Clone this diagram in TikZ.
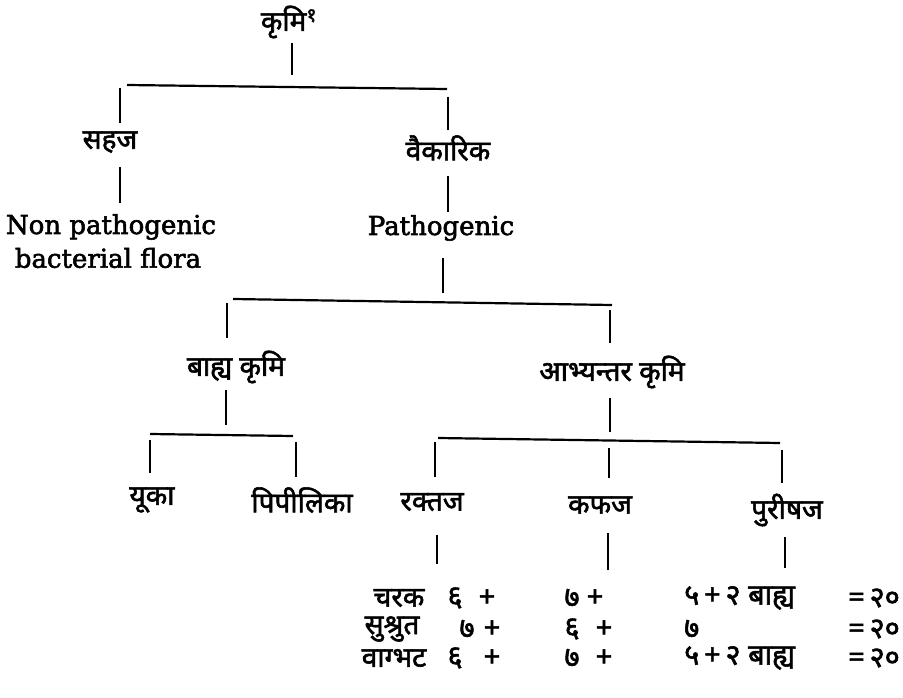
\documentclass[tikz,border=0pt]{standalone}
\usepackage{fontspec}
\setmainfont{DejaVu Serif}
\newfontfamily\enfont[FakeBold=2.2]{DejaVu Serif}
\newfontfamily\deva[Script=Devanagari,FakeBold=2]{Noto Sans}
\begin{document}
\begin{tikzpicture}[x=1pt,y=-1pt,
  every node/.style={inner sep=0pt},
  dv/.style={font=\deva\fontsize{28}{32}\selectfont},
  dn/.style={font=\deva\fontsize{29}{32}\selectfont},
  en/.style={font=\enfont\fontsize{26}{30}\selectfont},
  ln/.style={line width=2.2pt}]
\useasboundingbox (0,0) rectangle (903,698);

% texts
\node[dv] (root) at (289,22) {कृमि\textsuperscript{१}};
\node[dv] (sahaj) at (110,142) {सहज};
\node[dv] (vaik) at (448,148) {वैकारिक};
\node[en] (nonp) at (111,227) {Non pathogenic};
\node[en] (bact) at (108,258) {bacterial flora};
\node[en] (path) at (441,228) {Pathogenic};
\node[dv] (bahya) at (236,367) {बाह्य कृमि};
\node[dv] (abhy) at (612,372) {आभ्यन्तर कृमि};
\node[dv] (yuka) at (152,500) {यूका};
\node[dv] (pipi) at (302,500) {पिपीलिका};
\node[dv] (rakt) at (432,502) {रक्तज};
\node[dv] (kaph) at (600,505) {कफज};
\node[dv] (puri) at (787,510) {पुरीषज};

\node[dv] (charaka) at (399,598) {चरक};
\node[dn] (c1) at (455,598) {६};
\node[dn] (c1p) at (487,598) {+};
\node[dn] (c2) at (572,598) {७};
\node[dn] (c2p) at (595,598) {+};
\node[dn,anchor=west] (c3) at (684,598) {५\,+\,२ बाह्य};
\node[dn,anchor=east] (c3e) at (900,598) {=\,२०};

\node[dv] (sushruta) at (392,629) {सुश्रुत};
\node[dn] (s1) at (467,629) {७};
\node[dn] (s1p) at (492,629) {+};
\node[dn] (s2) at (572,629) {६};
\node[dn] (s2p) at (604,629) {+};
\node[dn,anchor=west] (s3) at (684,629) {७};
\node[dn,anchor=east] (s3e) at (900,629) {=\,२०};

\node[dv] (vagbhata) at (394,658) {वाग्भट};
\node[dn] (v1) at (455,658) {६};
\node[dn] (v1p) at (492,658) {+};
\node[dn] (v2) at (572,658) {७};
\node[dn] (v2p) at (604,658) {+};
\node[dn,anchor=west] (v3) at (684,658) {५\,+\,२ बाह्य};
\node[dn,anchor=east] (v3e) at (900,658) {=\,२०};

% junction coordinates
\coordinate (r0) at (292,43);  \coordinate (r1) at (292,75);
\coordinate (b1l) at (127,85); \coordinate (b1r) at (447,89);
\coordinate (d1a) at (120,88); \coordinate (d1b) at (120,123);
\coordinate (d2a) at (448,97); \coordinate (d2b) at (448,130);
\coordinate (s0) at (120,167); \coordinate (s1c) at (120,203);
\coordinate (w0) at (448,176); \coordinate (w1) at (448,212);
\coordinate (p0) at (443,258); \coordinate (p1) at (443,293);
\coordinate (b2l) at (233,299); \coordinate (b2r) at (612,305);
\coordinate (d3a) at (227,303); \coordinate (d3b) at (227,338);
\coordinate (d4a) at (610,310); \coordinate (d4b) at (610,343);
\coordinate (k0) at (226,390); \coordinate (k1) at (226,425);
\coordinate (b3l) at (150,434); \coordinate (b3r) at (293,436);
\coordinate (d5a) at (150,440); \coordinate (d5b) at (150,473);
\coordinate (d6a) at (296,442); \coordinate (d6b) at (296,477);
\coordinate (a0) at (610,398); \coordinate (a1) at (610,432);
\coordinate (b4l) at (438,438); \coordinate (b4r) at (780,443);
\coordinate (d7a) at (435,442); \coordinate (d7b) at (435,477);
\coordinate (d8a) at (609,448); \coordinate (d8b) at (609,478);
\coordinate (d9a) at (782,450); \coordinate (d9b) at (782,483);
\coordinate (e1a) at (437,535); \coordinate (e1b) at (437,564);
\coordinate (e2a) at (608,533); \coordinate (e2b) at (608,570);
\coordinate (e3a) at (785,537); \coordinate (e3b) at (785,568);

% connectors
\draw[ln] (r0) -- (r1);
\draw[ln] (b1l) -- (b1r);
\draw[ln] (d1a) -- (d1b);
\draw[ln] (d2a) -- (d2b);
\draw[ln] (s0) -- (s1c);
\draw[ln] (w0) -- (w1);
\draw[ln] (p0) -- (p1);
\draw[ln] (b2l) -- (b2r);
\draw[ln] (d3a) -- (d3b);
\draw[ln] (d4a) -- (d4b);
\draw[ln] (k0) -- (k1);
\draw[ln] (b3l) -- (b3r);
\draw[ln] (d5a) -- (d5b);
\draw[ln] (d6a) -- (d6b);
\draw[ln] (a0) -- (a1);
\draw[ln] (b4l) -- (b4r);
\draw[ln] (d7a) -- (d7b);
\draw[ln] (d8a) -- (d8b);
\draw[ln] (d9a) -- (d9b);
\draw[ln] (e1a) -- (e1b);
\draw[ln] (e2a) -- (e2b);
\draw[ln] (e3a) -- (e3b);
\end{tikzpicture}
\end{document}
